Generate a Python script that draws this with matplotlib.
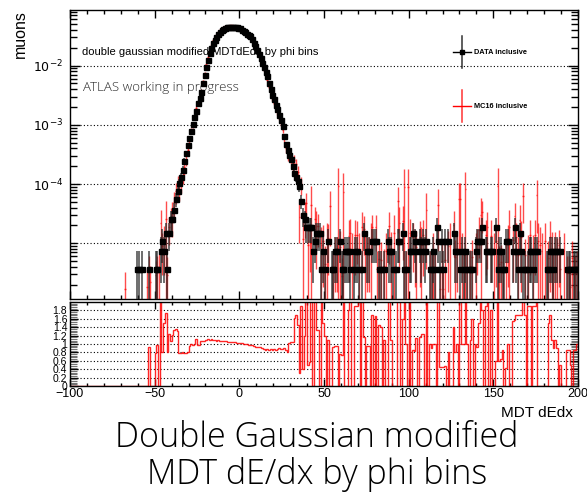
import numpy as np
import matplotlib
matplotlib.use("Agg")
import matplotlib.pyplot as plt
from matplotlib.ticker import MultipleLocator, FixedLocator, NullFormatter

plt.rcParams["font.family"] = ["Liberation Sans", "DejaVu Sans"]
plt.rcParams["axes.linewidth"] = 1.0

# 300 bins of width 1 between -100 and 200
edges = np.arange(-100, 201)
centres = edges[:-1] + 0.5

count_scale = 3.7e-6   # one data event after normalising to unit area
mc_weight = 3.0        # mean MC event weight, in data-event units

# data counts, x = -100 .. -41
data_left = [0] * 39 + [1, 1, 0, 1, 0, 0, 0, 1, 0, 0, 0, 1, 1, 0, 2, 3, 2, 4, 1, 4, 7]
# data counts, x = -40 .. 40
data_core = [7, 10, 15, 21, 28, 36, 47, 66, 89, 123,
             162, 214, 275, 363, 468, 631, 776, 955, 1349, 1905,
             2570, 3388, 4365, 5370, 6607, 7413, 8318, 9120, 10000, 10715,
             11220, 11749, 12023, 12162, 12303, 12303, 12274, 12162, 12023, 11749,
             11482, 10965, 10471, 10000, 9333, 8913, 8511, 7586, 6607, 5754,
             5012, 4266, 3631, 3020, 2570, 2138, 1778, 1380, 1096, 871,
             724, 589, 490, 398, 324, 257, 178, 126, 102, 85,
             71, 54, 42, 35, 30, 25, 14, 8, 7, 5, 5]
# data counts, x = 41 .. 199
data_right = [5, 5, 2, 3, 4, 4, 4, 1, 2, 1,
              0, 3, 0, 1, 1, 2, 2, 0, 3, 1,
              1, 2, 2, 2, 1, 0, 1, 2, 2, 1,
              0, 1, 4, 0, 2, 2, 0, 3, 3, 3,
              0, 1, 1, 0, 1, 0, 3, 2, 2, 1,
              0, 1, 3, 3, 0, 4, 1, 1, 0, 2,
              2, 4, 3, 2, 0, 3, 2, 3, 2, 3,
              0, 1, 1, 2, 1, 5, 3, 1, 3, 1,
              3, 0, 3, 0, 0, 4, 2, 2, 0, 1,
              2, 1, 2, 1, 0, 1, 1, 0, 2, 3,
              3, 3, 5, 0, 2, 2, 0, 2, 2, 0,
              5, 1, 2, 2, 1, 1, 3, 3, 0, 0,
              2, 5, 2, 1, 4, 2, 1, 1, 0, 1,
              2, 2, 1, 2, 2, 0, 0, 0, 0, 0,
              1, 1, 2, 2, 1, 2, 2, 0, 2, 0,
              0, 0, 1, 1, 1, 0, 1, 1, 1]

# MC16 (in data-event units), x = -100 .. -41
mc_left = [0.0] * 32 + [0.45] + [0.0] * 12 + [0.5, 0.94, 0.6, 0, 0, 0.78, 0.98, 1.0,
                                             6.0, 2.4, 3.0, 7.0, 0.8, 5.0, 7.5]
mc_err_left = [0.0] * 32 + [0.45] + [0.0] * 12 + [0.5, 0.7, 0.5, 0, 0, 0.6, 0.7, 0.8,
                                                 4.0, 1.6, 2.2, 7.0, 0.8, 2.5, 3.0]
# MC16 / data in the core, x = -40 .. 40
ratio_core = [1.22, 1.34, 1.36, 1.30, 0.78, 0.78, 0.80, 0.78, 0.78, 0.82,
              0.96, 1.00, 0.98, 1.00, 1.12, 0.98, 0.98, 1.06, 1.08, 1.06,
              1.10, 1.12, 1.10, 1.12, 1.10, 1.09, 1.08, 1.09, 1.08, 1.07,
              1.07, 1.06, 1.06, 1.05, 1.05, 1.05, 1.04, 1.04, 1.03, 1.03,
              1.02, 1.02, 1.01, 1.00, 1.00, 0.98, 0.97, 0.97, 0.96, 0.94,
              0.93, 0.92, 0.92, 0.90, 0.88, 0.86, 0.87, 0.85, 0.88, 0.85,
              0.87, 0.86, 0.88, 0.90, 0.88, 0.87, 0.90, 0.86, 0.80, 1.02,
              1.05, 1.05, 1.62, 1.70, 1.45, 0.30, 1.90, 0.40, 1.20, 2.60, 0.50]
# MC16, x = 41 .. 199
mc_right = [2.9, 12, 0, 7, 5.3, 5.3, 0, 2.5, 3.0, 1.2,
            3, 3.3, 11.6, 0, 0.93, 1.9, 1.9, 25, 2.3, 0.75,
            20, 0, 0, 3.6, 4, 2, 0, 3.8, 3.8, 2,
            0, 5, 4.7, 2, 1.9, 1.9, 3, 5.1, 0, 5,
            1, 1.45, 1.4, 0, 1.1, 2, 0, 5.2, 2.2, 0,
            4, 0, 14, 6, 0, 6.4, 24, 1, 24, 4,
            0, 3.4, 2.5, 2.3, 0, 3.5, 2.5, 3.75, 0, 10,
            0, 1.0, 0.9, 2, 1, 0, 12, 0.45, 1.35, 0.45,
            1.4, 0, 2.4, 3, 0, 5.6, 1.6, 2, 15, 15,
            2, 1, 22, 1, 0, 1.1, 1.6, 0, 2, 2.8,
            4.5, 8, 9, 0, 3.8, 5, 0, 3.6, 0, 2,
            3, 25, 1.2, 1.3, 0.85, 0, 1.3, 3, 5, 0,
            3.1, 7.8, 3.4, 1.7, 6.8, 3.4, 17, 1.7, 0, 1.9,
            3.8, 0, 1.9, 3.8, 18, 3, 2.5, 2, 0, 3,
            0, 1.5, 3.4, 2.2, 0.9, 2.2, 1.8, 2.5, 1.0, 0,
            2, 0, 0.85, 0.85, 0.5, 1.5, 0.85, 0.85, 1]
mc_err_right = [2.0, 13, 0, 4, 4.3, 3, 0, 2.5, 2.5, 1.2,
                3, 2.5, 9.2, 0, 0.9, 1.5, 1.5, 25, 2, 0.75,
                22, 0, 0, 3, 3, 2, 0, 3, 2.6, 2,
                0, 4, 3, 2, 1.5, 1.5, 3, 3, 0, 3,
                1, 1.4, 1.4, 0, 1.1, 2, 0, 4, 2, 0,
                4, 0, 10, 5, 0, 5, 24, 1, 24, 3,
                0, 2.5, 2, 2, 0, 3, 2.5, 3, 0, 9,
                0, 1, 0.9, 2, 1, 0, 10, 0.45, 1.3, 0.45,
                1.2, 0, 2, 3, 0, 4, 1.5, 1.6, 13, 13,
                2, 1, 22, 1, 0, 1, 1.5, 0, 2, 2,
                3, 8, 5, 0, 3, 4, 0, 3, 0, 2,
                2.5, 25, 1.2, 1.2, 0.85, 0, 1.3, 2.5, 5, 0,
                2.5, 5, 2.5, 1.7, 5, 3, 11, 1.5, 0, 1.9,
                3, 0, 1.9, 3, 14, 3, 2.5, 2, 0, 3,
                0, 1.5, 3, 2, 0.9, 2, 1.5, 2, 1, 0,
                2, 0, 0.8, 0.8, 0.5, 1.5, 0.85, 0.8, 1]

data_counts = np.array(data_left + data_core + data_right, dtype=float)
mc_core = np.array(data_core, dtype=float) * np.array(ratio_core)
mc_counts = np.concatenate([mc_left, mc_core, mc_right])
mc_errs = np.concatenate([mc_err_left, np.sqrt(mc_core * mc_weight), mc_err_right])

data_val = data_counts * count_scale
data_err = np.sqrt(data_counts) * count_scale
mc_val = mc_counts * count_scale
mc_err = mc_errs * count_scale
ratio = np.divide(mc_counts, data_counts, out=np.zeros_like(mc_counts),
                  where=data_counts > 0)

W, H = 587, 498


def fpos(px, py):
    return px / W, 1 - py / H


thin = ["Open Sans", "DejaVu Sans"]

fig = plt.figure(figsize=(W / 100, H / 100), dpi=100)
ax = fig.add_axes([70 / W, 1 - 298.5 / H, 508 / W, 288.5 / H])
rax = fig.add_axes([70 / W, 1 - 386 / H, 508 / W, 84 / H])

# ---- upper pad: normalised distributions
ax.set_yscale("log")
ax.set_xlim(-100, 200)
ax.set_ylim(1.17e-6, 0.0866)
for dec in [1e-5, 1e-4, 1e-3, 1e-2]:
    ax.axhline(dec, color="black", lw=0.8, ls=(0, (1, 2)), zorder=1)

m = mc_counts > 0
ax.errorbar(centres[m], mc_val[m], yerr=mc_err[m], xerr=0.5, fmt="none",
            ecolor=(1, 0, 0, 0.7), elinewidth=1.0, zorder=2)
d = data_counts > 0
ax.errorbar(centres[d], data_val[d], yerr=data_err[d], fmt="s", ms=3.6,
            color="black", ecolor=(0.15, 0.15, 0.15, 0.85), elinewidth=1.1,
            capsize=0, zorder=3)

ax.xaxis.set_major_locator(MultipleLocator(50))
ax.xaxis.set_minor_locator(MultipleLocator(10))
ax.xaxis.set_major_formatter(NullFormatter())
ax.yaxis.set_major_locator(FixedLocator([1e-4, 1e-3, 1e-2]))
ax.set_yticklabels([r"$10^{-4}$", r"$10^{-3}$", r"$10^{-2}$"], fontsize=9)
minor = [k * 10.0 ** e for e in range(-6, -1) for k in range(2, 10)] + [1e-5, 1e-6]
ax.yaxis.set_minor_locator(FixedLocator(minor))
ax.yaxis.set_minor_formatter(NullFormatter())
ax.tick_params(axis="x", which="major", direction="in", top=True, length=6, width=1)
ax.tick_params(axis="x", which="minor", direction="in", top=True, length=3, width=1)
ax.tick_params(axis="y", which="major", direction="in", right=True, length=7,
               width=1, pad=5)
ax.tick_params(axis="y", which="minor", direction="in", right=True, length=5, width=1)

ax.text(0.024, 0.854, "double gaussian modified MDTdEdx by phi bins",
        transform=ax.transAxes, fontsize=8, va="center", ha="left")
ax.text(0.026, 0.72, "ATLAS working in progress", transform=ax.transAxes,
        fontsize=9.5, va="baseline", ha="left", color="#2a2a2a", family=thin,
        fontweight="light")

# legend
for y0, col, label, mk in [(0.854, "black", "DATA inclusive", "s"),
                           (0.667, "red", "MC16 inclusive", None)]:
    ax.plot([0.7717, 0.7717], [y0 - 0.055, y0 + 0.055], color=col,
            lw=1.1, alpha=0.8, transform=ax.transAxes, clip_on=False)
    ax.plot([0.754, 0.789], [y0, y0], color=col, lw=1.0,
            transform=ax.transAxes, clip_on=False)
    if mk:
        ax.plot([0.7717], [y0], marker=mk, ms=3.4, color=col,
                transform=ax.transAxes, clip_on=False)
    ax.text(0.795, y0, label, transform=ax.transAxes, fontsize=5.3,
            fontweight="bold", va="center", ha="left")

fig.text(*fpos(20, 10), "muons", rotation=90, fontsize=11.5, ha="center", va="top")

# ---- lower pad: MC16 / data
rax.set_xlim(-100, 200)
rax.set_ylim(0, 2)
for g in np.arange(0.2, 1.81, 0.2):
    rax.axhline(g, color="black", lw=0.8, ls=(0, (1, 2)), zorder=1)
rax.stairs(ratio, edges, color="red", lw=1.0, alpha=0.85, baseline=None, zorder=2)

rax.xaxis.set_major_locator(MultipleLocator(50))
rax.xaxis.set_minor_locator(MultipleLocator(10))
rax.yaxis.set_major_locator(FixedLocator(np.round(np.arange(0, 1.81, 0.2), 1)))
rax.set_yticklabels(["0", "0.2", "0.4", "0.6", "0.8", "1", "1.2", "1.4", "1.6", "1.8"],
                    fontsize=7.5)
rax.yaxis.set_minor_locator(MultipleLocator(0.04))
rax.tick_params(axis="x", which="major", direction="in", top=True, length=5,
                width=1, labelsize=9, pad=1.5)
rax.tick_params(axis="x", which="minor", direction="in", top=True, length=2.5, width=1)
rax.tick_params(axis="y", which="major", direction="in", right=True, length=6,
                width=1, pad=2)
rax.tick_params(axis="y", which="minor", direction="in", right=True, length=5,
                width=0.8, color="0.45")

fig.text(*fpos(573, 413), "MDT dEdx", fontsize=11, ha="right", va="center")

# ---- caption
caption = dict(family=thin, fontweight="light", fontsize=24.5, ha="center",
               va="baseline", color="black")
fig.text(*fpos(317, 447), "Double Gaussian modified", **caption)
fig.text(*fpos(317, 483.5), "MDT dE/dx by phi bins", **caption)

fig.savefig("out.png", dpi=100)
